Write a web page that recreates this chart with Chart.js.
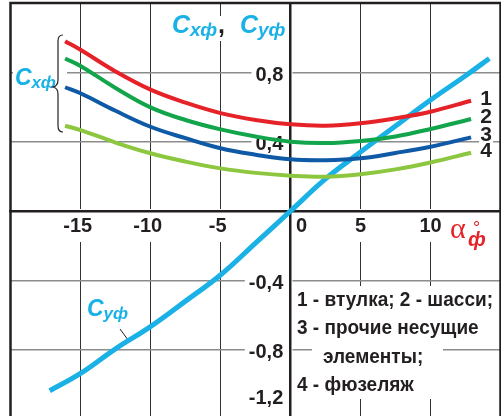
<!DOCTYPE html>
<html>
<head>
<meta charset="utf-8">
<script src="https://cdn.jsdelivr.net/npm/chart.js@4"></script>
<style>
  html, body { margin: 0; padding: 0; background: #fff; overflow: hidden; }
  canvas { display: block; }
</style>
</head>
<body>
<canvas id="chart" width="501" height="420"></canvas>
<script>
// angle of attack, deg
const alphaCx = [-16.1, -15, -12.5, -10, -7.5, -5, -2.5, 0, 2.5, 5, 7.5, 10, 12.9];
// drag coefficients: 1 - hub, 2 - landing gear, 3 - other load-carrying parts, 4 - fuselage
const cxHub = [0.98, 0.93, 0.805, 0.70, 0.625, 0.565, 0.525, 0.50, 0.492, 0.506, 0.535, 0.573, 0.636];
const cxGear = [0.88, 0.837, 0.71, 0.598, 0.525, 0.471, 0.43, 0.40, 0.392, 0.404, 0.43, 0.473, 0.531];
const cxOther = [0.714, 0.679, 0.578, 0.486, 0.42, 0.362, 0.325, 0.298, 0.293, 0.304, 0.335, 0.371, 0.425];
const cxFuselage = [0.492, 0.467, 0.395, 0.333, 0.285, 0.246, 0.22, 0.204, 0.198, 0.212, 0.24, 0.28, 0.336];

// lift coefficient of the fuselage
const alphaCy = [-17.2, -15, -12.5, -10, -7.5, -5, -2.5, 0, 2.5, 5, 7.5, 10, 12.5, 14.2];
const cyFuselage = [-1.037, -0.937, -0.795, -0.667, -0.52, -0.369, -0.185, 0, 0.185, 0.34, 0.49, 0.64, 0.78, 0.88];

const xTicks = [-15, -10, -5, 0, 5, 10];
const xTickLabels = ['-15', '-10', '-5', '0', '5', '10'];
const yTicks = [-1.2, -0.8, -0.4, 0, 0.4, 0.8];
const yTickLabels = ['-1,2', '-0,8', '-0,4', '', '0,4', '0,8'];
const curveNumbers = ['1', '2', '3', '4'];
const legendLines = ['1 - втулка; 2 - шасси;', '3 - прочие несущие', 'элементы;', '4 - фюзеляж'];

const INK = '#231f20';
const CYAN = '#19b1e6';
const RED = '#e52228';
const SANS = '"Liberation Sans", Arial, sans-serif';

const toPoints = (xs, ys) => xs.map((x, i) => ({ x: x, y: ys[i] }));

// centred axes should not eat any room from the plot
const noRoom = (scale) => {
  if (scale.isHorizontal()) scale.height = 0; else scale.width = 0;
  scale.paddingLeft = scale.paddingRight = scale.paddingTop = scale.paddingBottom = 0;
};

function drawSymbol(ctx, x, y, sub, size) {
  // "C" with a subscript, y is the baseline
  ctx.font = 'italic bold ' + size + 'px ' + SANS;
  ctx.fillText('C', x, y);
  const w = ctx.measureText('C').width;
  ctx.font = 'italic bold ' + Math.round(size * 0.76) + 'px ' + SANS;
  ctx.fillText(sub, x + w, y + size * 0.12);
  return w + ctx.measureText(sub).width;
}

const annotations = {
  id: 'annotations',
  beforeDatasetsDraw(chart) {
    const { ctx, chartArea: a } = chart;
    const xs = chart.scales.x;
    const ys = chart.scales.y;
    ctx.save();
    ctx.textBaseline = 'alphabetic';
    ctx.textAlign = 'left';

    // title
    ctx.fillStyle = '#fff';
    ctx.fillRect(166, 16, 122, 25);
    ctx.fillStyle = CYAN;
    let w = drawSymbol(ctx, 172, 33, 'хф', 25);
    ctx.fillStyle = INK;
    ctx.font = 'bold 25px ' + SANS;
    ctx.fillText(',', 172 + w + 1, 33);
    ctx.fillStyle = CYAN;
    drawSymbol(ctx, 240, 33, 'уф', 25);

    // Cx label with brace
    ctx.fillStyle = '#fff';
    ctx.fillRect(13, 62, 54, 32);
    ctx.fillStyle = CYAN;
    drawSymbol(ctx, 15, 85, 'хф', 23);
    ctx.strokeStyle = INK;
    ctx.lineWidth = 1.2;
    ctx.beginPath();
    ctx.moveTo(63, 35);
    ctx.quadraticCurveTo(58, 35, 58, 41);
    ctx.lineTo(58, 80);
    ctx.quadraticCurveTo(58, 86, 53, 87);
    ctx.quadraticCurveTo(58, 88, 58, 94);
    ctx.lineTo(58, 126);
    ctx.quadraticCurveTo(58, 132, 63, 132);
    ctx.stroke();

    // Cy label with leader
    ctx.fillStyle = CYAN;
    drawSymbol(ctx, 87, 316, 'уф', 23);
    ctx.lineWidth = 1;
    ctx.beginPath();
    ctx.moveTo(120, 329);
    ctx.lineTo(129.5, 342);
    ctx.stroke();

    // curve numbers at the right ends
    const ends = [cxHub, cxGear, cxOther, cxFuselage];
    ctx.font = 'bold 21px ' + SANS;
    ctx.textAlign = 'center';
    ctx.textBaseline = 'middle';
    curveNumbers.forEach((n, i) => {
      const vals = ends[i];
      const px = xs.getPixelForValue(alphaCx[alphaCx.length - 1]) + 15;
      const py = ys.getPixelForValue(vals[vals.length - 1]) - 2;
      ctx.fillStyle = '#fff';
      ctx.fillRect(px - 7, py - 8, 14, 16);
      ctx.fillStyle = INK;
      ctx.fillText(n, px, py);
    });

    // axis name
    ctx.textAlign = 'left';
    ctx.textBaseline = 'alphabetic';
    ctx.fillStyle = RED;
    ctx.font = '30px "Liberation Serif", "Times New Roman", serif';
    ctx.fillText('α', 450, 238);
    ctx.font = '18px ' + SANS;
    ctx.fillText('°', 473, 234);
    ctx.font = 'italic bold 20px ' + SANS;
    ctx.fillText('ф', 468, 246);

    // legend, squeezed a bit like a narrow face
    ctx.fillStyle = '#fff';
    ctx.fillRect(293, 286, 205, 56);
    ctx.fillRect(312, 342, 131, 29);
    ctx.fillRect(293, 371, 205, 28);
    ctx.fillStyle = INK;
    ctx.textBaseline = 'middle';
    ctx.font = 'bold 20px ' + SANS;
    const squeeze = 196 / ctx.measureText(legendLines[0]).width;
    const lx = [297, 297, 323, 297];
    const ly = [300, 328, 357, 385];
    legendLines.forEach((t, i) => {
      ctx.save();
      ctx.translate(lx[i], ly[i]);
      ctx.scale(squeeze, 1);
      ctx.fillText(t, 0, 0);
      ctx.restore();
    });

    // frame
    ctx.strokeStyle = INK;
    ctx.lineWidth = 2.5;
    ctx.strokeRect(a.left, a.top, a.right - a.left, a.bottom - a.top);
    ctx.restore();
  }
};

const tickFont = { family: SANS, weight: 'bold', size: 20 };

new Chart(document.getElementById('chart'), {
  type: 'line',
  data: {
    datasets: [
      { data: toPoints(alphaCx, cxHub), borderColor: RED },
      { data: toPoints(alphaCx, cxGear), borderColor: '#13a54b' },
      { data: toPoints(alphaCx, cxOther), borderColor: '#0f5aa6' },
      { data: toPoints(alphaCx, cxFuselage), borderColor: '#8dc63f' },
      { data: toPoints(alphaCy, cyFuselage), borderColor: CYAN, borderWidth: 5 }
    ]
  },
  options: {
    responsive: false,
    animation: false,
    layout: { padding: { left: 10.5, right: 0.5, top: 3, bottom: 1 } },
    elements: {
      line: { borderWidth: 4, tension: 0.4, fill: false },
      point: { radius: 0 }
    },
    plugins: {
      legend: { display: false },
      tooltip: { enabled: false }
    },
    scales: {
      x: {
        type: 'linear',
        min: -20,
        max: 15,
        position: { y: 0 },
        afterBuildTicks: (scale) => { scale.ticks = xTicks.map(v => ({ value: v })); },
        afterFit: noRoom,
        grid: { color: '#333', lineWidth: 1, drawTicks: false },
        border: { color: INK, width: 2.5 },
        ticks: {
          autoSkip: false,
          maxRotation: 0,
          z: -1,
          color: INK,
          font: tickFont,
          showLabelBackdrop: true,
          backdropColor: '#fff',
          backdropPadding: { top: 5, bottom: 4, left: 2, right: 2 },
          callback: (value) => {
            const label = xTickLabels[xTicks.indexOf(value)];
            if (value === 0) return '    ' + label;
            // minus sign hangs to the left of the grid line
            return value < 0 ? label + ' ' : label;
          }
        }
      },
      y: {
        type: 'linear',
        min: -1.2,
        max: 1.2,
        position: { x: 0 },
        afterBuildTicks: (scale) => { scale.ticks = yTicks.map(v => ({ value: v })); },
        afterFit: noRoom,
        grid: { color: '#8c8c8c', lineWidth: 1.5, drawTicks: false },
        border: { color: INK, width: 2.5 },
        ticks: {
          autoSkip: false,
          z: -1,
          labelOffset: 3,
          color: INK,
          font: tickFont,
          // no backdrop on the empty zero label and on the three-line bottom one
          showLabelBackdrop: (ctx) => ctx.tick.value !== 0 && ctx.tick.value !== -1.2,
          backdropColor: '#fff',
          backdropPadding: { top: 0, bottom: 0, left: 4, right: 2 },
          callback: (value) => {
            const label = yTickLabels[yTicks.indexOf(value)] + ' \u200A';
            // the bottom label sits higher, the picture is cut there
            return value === -1.2 ? [label, '', ''] : label;
          }
        }
      }
    }
  },
  plugins: [annotations]
});
</script>
</body>
</html>
